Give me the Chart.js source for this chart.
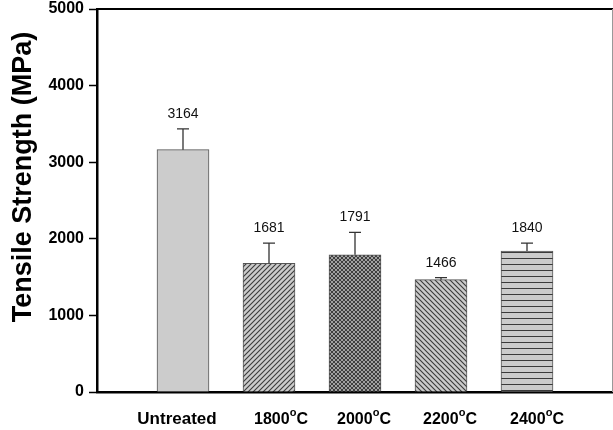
<!DOCTYPE html>
<html>
<head>
<meta charset="utf-8">
<script src="https://cdn.jsdelivr.net/npm/chart.js@4/dist/chart.umd.min.js"></script>
<style>
  html, body { margin: 0; padding: 0; background: #fff; }
  #wrap { width: 613px; height: 430px; position: relative; }
</style>
</head>
<body>
<div id="wrap"><canvas id="c" width="613" height="430"></canvas></div>
<script>
// ---- data ----
const categories = ['Untreated', '1800', '2000', '2200', '2400'];
const categoryUnits = ['', 'C', 'C', 'C', 'C'];
const tensileStrength = [3164, 1681, 1791, 1466, 1840];
const errorBars = [270, 263, 292, 27, 104];
const yTickValues = [0, 1000, 2000, 3000, 4000, 5000];
const yTitle = 'Tensile Strength (MPa)';

// ---- fills ----
function tile(size, draw) {
  const c = document.createElement('canvas');
  c.width = size; c.height = size;
  const g = c.getContext('2d');
  g.fillStyle = '#cbcbcb';
  g.fillRect(0, 0, size, size);
  g.strokeStyle = '#3a3a3a';
  g.lineWidth = 1.1;
  draw(g, size);
  return document.createElement('canvas').getContext('2d').createPattern(c, 'repeat');
}
const fwd = (g, s) => {
  g.beginPath();
  g.moveTo(0, s); g.lineTo(s, 0);
  g.moveTo(-1, 1); g.lineTo(1, -1);
  g.moveTo(s - 1, s + 1); g.lineTo(s + 1, s - 1);
  g.stroke();
};
const back = (g, s) => {
  g.beginPath();
  g.moveTo(0, 0); g.lineTo(s, s);
  g.moveTo(s - 1, -1); g.lineTo(s + 1, 1);
  g.moveTo(-1, s - 1); g.lineTo(1, s + 1);
  g.stroke();
};
const fills = [
  '#cccccc',
  tile(5, fwd),
  tile(4, (g, s) => { fwd(g, s); back(g, s); }),
  tile(5, back),
  tile(6, (g, s) => { g.lineWidth = 1; g.beginPath(); g.moveTo(0, 0.5); g.lineTo(s, 0.5); g.stroke(); })
];

const FONT = '"Liberation Sans", Arial, sans-serif';

const annotations = {
  id: 'annotations',
  afterDatasetsDraw(chart) {
    const { ctx, scales: { x, y } } = chart;
    ctx.save();
    tensileStrength.forEach((v, i) => {
      const cx = x.getPixelForValue(i + 1);
      const top = y.getPixelForValue(v);
      const cap = y.getPixelForValue(v + errorBars[i]);
      ctx.strokeStyle = '#333';
      ctx.lineWidth = 1.3;
      ctx.beginPath();
      ctx.moveTo(cx, top); ctx.lineTo(cx, cap);
      ctx.moveTo(cx - 6, cap); ctx.lineTo(cx + 6, cap);
      ctx.stroke();
      ctx.fillStyle = '#111';
      ctx.font = '14px ' + FONT;
      ctx.textAlign = 'center';
      ctx.textBaseline = 'alphabetic';
      ctx.fillText(String(v), cx, cap - 11);
    });
    ctx.restore();
  },
  afterDraw(chart) {
    const { ctx, chartArea, scales: { x } } = chart;
    const offsets = [-6, 12, 9, 9, 10];
    ctx.save();
    // frame top and right
    ctx.strokeStyle = '#000';
    ctx.lineWidth = 2;
    ctx.beginPath();
    ctx.moveTo(chartArea.left, chartArea.top);
    ctx.lineTo(chartArea.right, chartArea.top);
    ctx.stroke();
    ctx.strokeStyle = '#999';
    ctx.lineWidth = 1;
    ctx.beginPath();
    ctx.moveTo(chartArea.right - 0.5, chartArea.top);
    ctx.lineTo(chartArea.right - 0.5, chartArea.bottom);
    ctx.stroke();
    // x labels with superscript
    ctx.fillStyle = '#000';
    ctx.textBaseline = 'alphabetic';
    ctx.textAlign = 'left';
    categories.forEach((lab, i) => {
      const cx = x.getPixelForValue(i + 1) + offsets[i];
      const base = 424;
      if (!categoryUnits[i]) {
        ctx.font = 'bold 17px ' + FONT;
        const w = ctx.measureText(lab).width;
        ctx.fillText(lab, cx - w / 2, base);
      } else {
        ctx.font = 'bold 16px ' + FONT;
        const w1 = ctx.measureText(lab).width;
        const w3 = ctx.measureText(categoryUnits[i]).width;
        ctx.font = 'bold 11px ' + FONT;
        const w2 = ctx.measureText('o').width;
        let px = cx - (w1 + w2 + w3) / 2;
        ctx.font = 'bold 16px ' + FONT;
        ctx.fillText(lab, px, base);
        px += w1;
        ctx.font = 'bold 11px ' + FONT;
        ctx.fillText('o', px, base - 8);
        px += w2;
        ctx.font = 'bold 16px ' + FONT;
        ctx.fillText(categoryUnits[i], px, base);
      }
    });
    // y title
    ctx.translate(31, 177);
    ctx.rotate(-Math.PI / 2);
    ctx.textAlign = 'center';
    ctx.font = 'bold 27px ' + FONT;
    ctx.fillText(yTitle, 0, 0);
    ctx.restore();
  }
};

new Chart(document.getElementById('c'), {
  type: 'bar',
  data: {
    datasets: [{
      data: categories.map((c, i) => ({ x: i + 1, y: tensileStrength[i] })),
      backgroundColor: fills,
      borderColor: '#555',
      borderWidth: 1,
      borderSkipped: 'bottom',
      barThickness: 52
    }]
  },
  options: {
    responsive: false,
    animation: false,
    events: [],
    layout: { padding: { top: 9, right: 0, left: 0, bottom: 0 } },
    plugins: { legend: { display: false }, tooltip: { enabled: false } },
    scales: {
      x: {
        type: 'linear',
        offset: false,
        min: 0, max: 6,
        ticks: { display: false },
        grid: { drawOnChartArea: false, drawTicks: false },
        border: { display: true, color: '#000', width: 2.5 },
        afterFit(s) { s.height = 38; s.paddingLeft = 0; s.paddingRight = 0; }
      },
      y: {
        min: 0, max: 5000,
        afterBuildTicks(s) { s.ticks = yTickValues.map(v => ({ value: v })); },
        ticks: {
          color: '#000', font: { family: FONT, size: 16, weight: 'bold' }, padding: 5,
          callback: v => String(v)
        },
        grid: { drawOnChartArea: false, drawTicks: true, tickLength: 8, tickColor: '#000', tickWidth: 1.5 },
        border: { display: true, color: '#000', width: 2.5 },
        afterFit(s) { s.width = 97; s.paddingTop = 0; s.paddingBottom = 0; }
      }
    }
  },
  plugins: [annotations]
});
</script>
</body>
</html>
